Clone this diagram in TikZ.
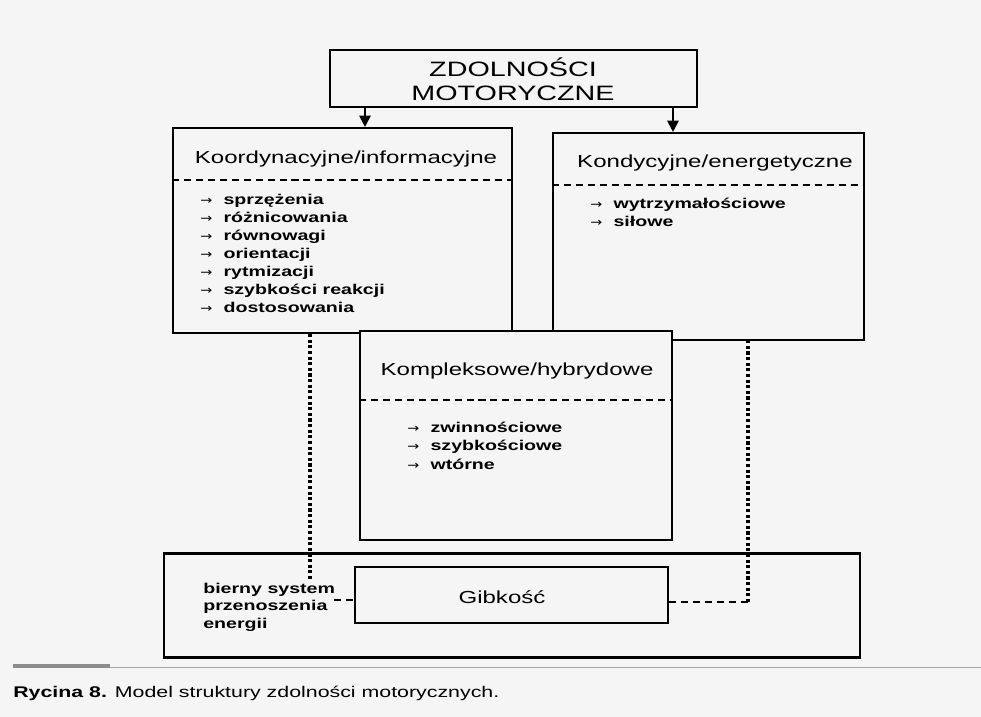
\documentclass[tikz,border=0pt]{standalone}
\usepackage{fontspec}
\setmainfont{Liberation Sans}[FakeStretch=1.38]
\newfontfamily\arrowfont{DejaVu Sans}[FakeStretch=1.2]
\usetikzlibrary{arrows.meta}

\colorlet{paper}{black!4}
\tikzset{
    box/.style={draw, line width=1.5pt, inner sep=0pt},
    boxsize/.style 2 args={minimum width=#1*0.025cm, minimum height=#2*0.025cm},
    head/.style={anchor=base, inner sep=0pt, font=\fontsize{12.4}{14}\selectfont},
    item/.style={anchor=base west, inner sep=0pt, font=\fontsize{10.1}{12}\selectfont\bfseries},
    sep/.style={line width=1.3pt, dash pattern=on 5pt off 3.5pt},
    dots/.style={line width=2.2pt, dash pattern=on 2.2pt off 1.8pt},
    arr/.style={line width=1.4pt, -{Triangle[length=8pt,width=8pt]}},
}
\newcommand{\tip}{{\arrowfont\mdseries\fontsize{8.5}{8}\selectfont →}\hspace{8pt}}

\begin{document}
\begin{tikzpicture}[x=0.025cm, y=-0.025cm]
    \useasboundingbox[fill=paper] (0,0) rectangle (981,717);

    % boxes
    \node[box, boxsize={367}{57}] (zdol) at (513.5,78.5) {};
    \node[box, boxsize={339}{205}] (koord) at (342.5,230.5) {};
    \node[box, boxsize={311}{207}] (kond) at (708.5,236.5) {};
    \node[box, fill=paper, boxsize={312}{209}] (kompl) at (516,435.5) {};
    \node[box, boxsize={696}{104}] (bierny) at (512,605.5) {};
    \node[box, boxsize={313}{56}] (gibk) at (511.5,595) {};

    % headings
    \node[head, align=center, font=\fontsize{14.8}{16.4}\selectfont] (zdolT) at (513,100) {ZDOLNOŚCI\\MOTORYCZNE};
    \node[head] (koordT) at (346,163) {Koordynacyjne/informacyjne};
    \node[head] (kondT) at (715,167) {Kondycyjne/energetyczne};
    \node[head] (komplT) at (517,375) {Kompleksowe/hybrydowe};
    \node[head] (gibkT) at (502,603) {Gibkość};

    \draw[sep] (koord.west |- 0,180) -- (koord.east |- 0,180);
    \draw[sep] (kond.west |- 0,185) -- (kond.east |- 0,185);
    \draw[sep] (kompl.west |- 0,400) -- (kompl.east |- 0,400);

    % lists
    \foreach \t [count=\i] in {sprzężenia, różnicowania, równowagi, orientacji, rytmizacji, szybkości reakcji, dostosowania}
        \node[item] (koord\i) at (200,186+18*\i) {\tip\t};
    \foreach \t [count=\i] in {wytrzymałościowe, siłowe}
        \node[item] (kond\i) at (590,191+17.5*\i) {\tip\t};
    \foreach \t [count=\i] in {zwinnościowe, szybkościowe, wtórne}
        \node[item] (kompl\i) at (407,413.5+18.5*\i) {\tip\t};

    \node[item, align=left, font=\fontsize{10.1}{12.4}\selectfont\bfseries] (biernyT) at (203,628) {bierny system\\przenoszenia\\energii};

    % connections
    \draw[arr] (zdol.south -| 365,0) -- (koord.north -| 365,0);
    \draw[arr] (zdol.south -| 673,0) -- (kond.north -| 673,0);
    \draw[dots] (koord.south -| 310,0) -- (310,580) coordinate (lft);
    \draw[sep] (334,600) -- (gibk.west |- 0,600);
    \draw[sep] (gibk.east |- 0,602) -- (748,602) coordinate (rgt);
    \draw[dots] (rgt) -- (kond.south -| rgt);

    % caption
    \draw[black!35, line width=0.6pt] (13,667) -- (981,667);
    \draw[black!45, line width=2.4pt] (13,666) -- (110,666);
    \node[anchor=base west, inner sep=0pt, font=\fontsize{11}{13}\selectfont] (rycina) at (13,697)
        {\textbf{Rycina 8.} Model struktury zdolności motorycznych.};
\end{tikzpicture}
\end{document}
